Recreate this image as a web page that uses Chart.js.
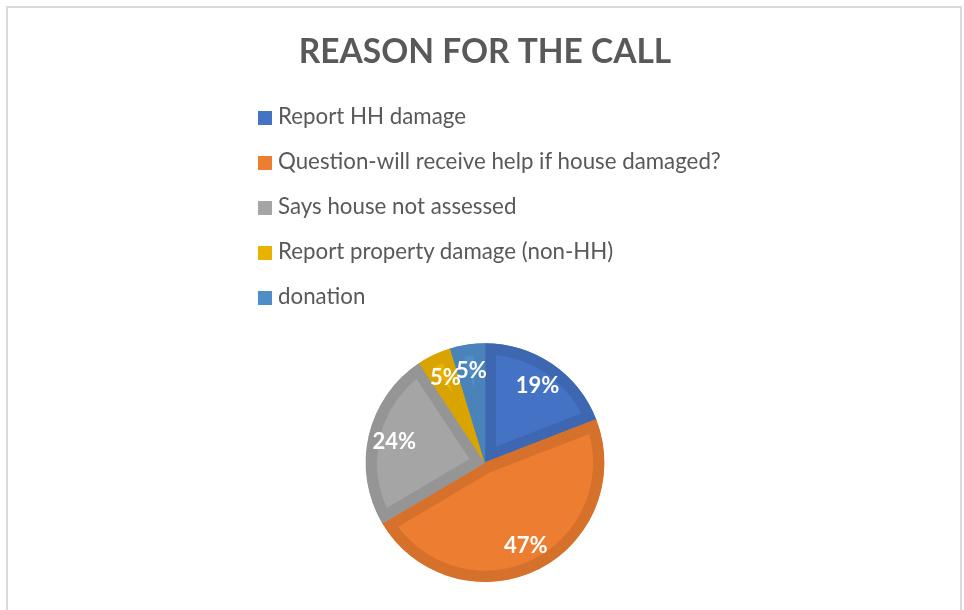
<!DOCTYPE html>
<html>
<head>
<meta charset="utf-8">
<script src="https://cdn.jsdelivr.net/npm/chart.js@4.4.1/dist/chart.umd.min.js"></script>
<style>
  body { margin: 0; background: #fff; font-family: Lato, "Open Sans", sans-serif; }
  #wrap { position: relative; width: 964px; height: 610px; overflow: hidden; }
  #frame { position: absolute; left: 6px; top: 6px; width: 956px; height: 640px; border: 2px solid #d9d9d9; box-sizing: border-box; }
  #chart { position: absolute; left: 0; top: 0; }
  #legend { position: absolute; left: 258px; top: 93px; margin: 0; padding: 0; list-style: none; }
  #legend li { height: 45px; line-height: 45px; font-size: 22.3px; color: #595959; white-space: nowrap; }
  #legend span.box { display: inline-block; width: 14px; height: 14px; margin-right: 6px; vertical-align: -1px; }
</style>
</head>
<body>
<div id="wrap">
  <div id="frame"></div>
  <canvas id="chart" width="964" height="610"></canvas>
  <ul id="legend"></ul>
</div>
<script>
var reasons = ['Report HH damage', 'Question-will receive help if house damaged?', 'Says house not assessed', 'Report property damage (non-HH)', 'donation'];
var shares = [19.1, 47.4, 24.2, 4.6, 4.7];
var fillColors = ['#4472C4', '#ED7D31', '#A5A5A5', '#EAB200', '#4F8DC7'];
var edgeColors = ['#3E67B1', '#D6712C', '#959595', '#D9A400', '#4A83BA'];

// legend as a plain list
var legend = document.getElementById('legend');
for (var i in reasons) {
    var li = document.createElement('li');
    var box = document.createElement('span');
    box.className = 'box';
    box.style.background = fillColors[i];
    li.appendChild(box);
    li.appendChild(document.createTextNode(reasons[i]));
    legend.appendChild(li);
}

// percent labels inside the slices
var sliceLabels = {
    id: 'sliceLabels',
    afterDatasetsDraw: function(chart) {
        var ctx = chart.ctx;
        var data = chart.data.datasets[0].data;
        var total = data.reduce(function(a, b){ return a + b; }, 0);
        ctx.save();
        ctx.font = 'bold 22px Lato, "Open Sans", sans-serif';
        ctx.fillStyle = '#ffffff';
        ctx.textAlign = 'center';
        ctx.textBaseline = 'middle';
        chart.getDatasetMeta(0).data.forEach(function(arc, i){
            var mid = (arc.startAngle + arc.endAngle) / 2;
            var r = arc.outerRadius * 0.78;
            var pct = Math.round(data[i] / total * 100) + '%';
            ctx.fillText(pct, arc.x + Math.cos(mid) * r, arc.y + Math.sin(mid) * r);
        });
        ctx.restore();
    }
};

new Chart(document.getElementById('chart'), {
    type: 'pie',
    data: {
        labels: reasons,
        datasets: [{
            data: shares,
            backgroundColor: fillColors,
            borderColor: edgeColors,
            borderWidth: 11,
            borderAlign: 'inner',
            hoverOffset: 0
        }]
    },
    options: {
        responsive: false,
        animation: false,
        layout: { padding: { left: 6, top: 0, bottom: 28 } },
        plugins: {
            legend: { display: false },
            tooltip: { enabled: false },
            title: {
                display: true,
                text: 'REASON FOR THE CALL',
                color: '#595959',
                font: { family: 'Lato', size: 33.5, weight: 'bold', lineHeight: 1.2 },
                padding: { top: 32, bottom: 271 }
            }
        }
    },
    plugins: [sliceLabels]
});
</script>
</body>
</html>
